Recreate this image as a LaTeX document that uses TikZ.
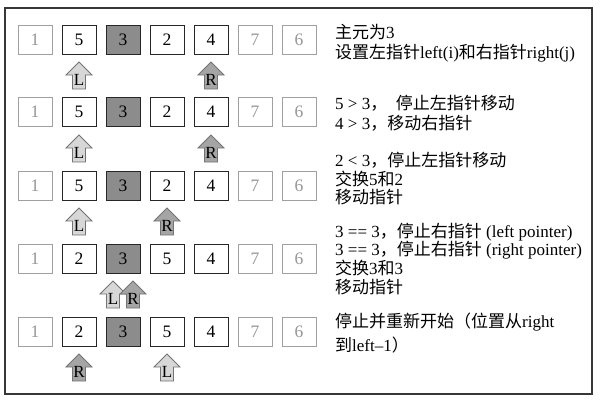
\documentclass[tikz,border=0pt]{standalone}
\usepackage{fontspec}
\setmainfont{Liberation Serif}
\newfontfamily\cjk{Noto Sans CJK SC}
\usepackage{tikz}
\definecolor{framegray}{RGB}{55, 55, 55}
\definecolor{dimgray}  {RGB}{160,160,160}
\definecolor{dimtext}  {RGB}{150,150,150}
\definecolor{pivotfill}{RGB}{140,140,140}
\definecolor{lfill}    {RGB}{215,215,215}
\definecolor{rfill}    {RGB}{165,165,165}
\definecolor{ptrline}  {RGB}{115,115,115}
\newcommand{\zh}[1]{{\cjk #1}}

\begin{document}
\begin{tikzpicture}[x=1pt, y=-1pt, font=\fontsize{17.5}{20}\selectfont,
  cell/.style={draw=black!85, line width=1pt, fill=white, minimum width=34pt,
    minimum height=29pt, inner sep=0pt},
  dimcell/.style={cell, draw=dimgray, text=dimtext},
  pivotcell/.style={cell, fill=pivotfill},
  ptr/.style={draw=ptrline, line width=0.8pt, line join=miter},
  note/.style={anchor=west, inner sep=0pt, font=\fontsize{17}{19}\selectfont}]
  \useasboundingbox (0,0) rectangle (600,402);
  % frame
  \draw[framegray, line width=1.3pt] (5,8) rectangle (592,394);
  % array rows
  \foreach \r/\yy/\a/\b in {1/39.5/5/2, 2/111.5/5/2, 3/186/5/2, 4/258.5/2/5, 5/332/2/5} {
    \foreach \v/\s [count=\c] in {1/dimcell,\a/cell,3/pivotcell,\b/cell,4/cell,7/dimcell,6/dimcell}
      \node[\s] (b\r-\c) at ({35+44*(\c-1)}, \yy) {\v};
  }
  % pointers L and R
  \foreach \r/\x/\lab/\clr in {1/79/L/lfill, 1/211/R/rfill, 2/79/L/lfill, 2/211/R/rfill,
      3/79/L/lfill, 3/167/R/rfill, 4/113/L/lfill, 4/133/R/rfill, 5/79/R/rfill, 5/167/L/lfill} {
    \pgfmathsetmacro\yt{73*\r-11}
    \draw[ptr, fill=\clr] (\x,\yt) -- ++(13,13) -- ++(-6.5,0) -- ++(0,14) -- ++(-13,0)
      -- ++(0,-14) -- ++(-6.5,0) -- cycle;
    \node[inner sep=0pt, font=\fontsize{17}{17}\selectfont] (p\r-\lab) at (\x,\yt+17.5) {\lab};
  }
  % step notes
  \foreach \yy/\txt [count=\i] in {
      32/{\zh{主元为}3},
      53/{\zh{设置左指针}left(i)\zh{和右指针}right(j)},
      103/{5 > 3\zh{，\enspace 停止左指针移动}},
      123/{4 > 3\zh{，移动右指针}},
      160/{2 < 3\zh{，停止左指针移动}},
      179/{\zh{交换}5\zh{和}2},
      197/{\zh{移动指针}},
      232/{3 == 3\zh{，停止右指针} (left pointer)},
      250/{3 == 3\zh{，停止右指针} (right pointer)},
      268/{\zh{交换}3\zh{和}3},
      287/{\zh{移动指针}},
      322/{\zh{停止并重新开始（位置从}right},
      345/{\zh{到}left–1\zh{）}}}
    \node[note] (n\i) at (335,\yy) {\txt};
\end{tikzpicture}
\end{document}
